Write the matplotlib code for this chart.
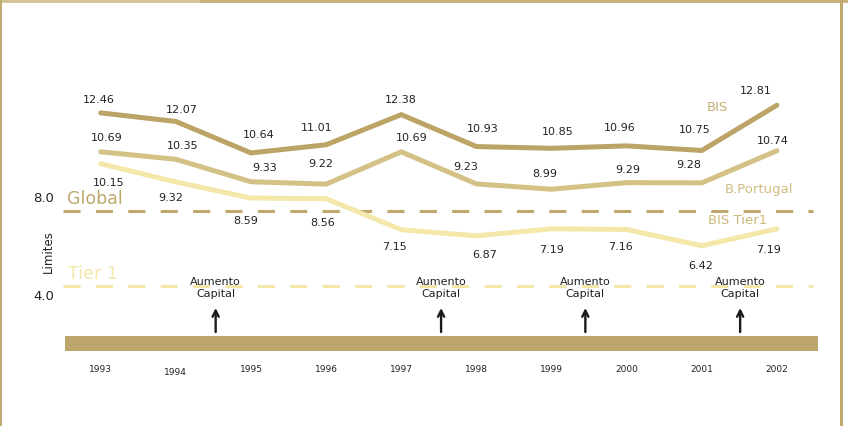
import numpy as np
import matplotlib
matplotlib.use("Agg")
import matplotlib.pyplot as plt
from matplotlib.patches import Rectangle

# ---------------- data ----------------
years = [1993, 1994, 1995, 1996, 1997, 1998, 1999, 2000, 2001, 2002]
bis = [12.46, 12.07, 10.64, 11.01, 12.38, 10.93, 10.85, 10.96, 10.75, 12.81]
bportugal = [10.69, 10.35, 9.33, 9.22, 10.69, 9.23, 8.99, 9.29, 9.28, 10.74]
bis_tier1 = [10.15, 9.32, 8.59, 8.56, 7.15, 6.87, 7.19, 7.16, 6.42, 7.19]
limit_global = 8.0
limit_tier1 = 4.0
capital_increase_x = [1994.53, 1997.53, 1999.45, 2001.51]
series_names = ["BIS", "B.Portugal", "BIS Tier1"]

# ---------------- label offsets (pixels, y up) ----------------
bis_off = [(-2, 14), (6, 12.5), (8, 19), (-9, 18), (0, 15.6), (6, 18.5),
           (6, 17.3), (-7, 19), (-7, 21.5), (-21, 15)]
bp_off = [(6, 15), (7, 14), (14, 15), (-5, 21), (10, 15), (-11, 18),
          (-7, 16), (1, 14), (-13, 19), (-4, 11)]
t1_off = [(8, -18), (-5, -15), (-5, -22), (-3, -23), (-7, -16), (8, -18),
          (0, -20), (-6, -16.5), (-1, -19), (-8, -20)]
name_off = [(-60, -1), (-18, -38), (-39, 9)]

c_bis = "#BBA466"
c_bp = "#D3C185"
c_t1 = "#F3E7AA"
c_global = "#BEA86C"
c_bar = "#BCA66B"
c_text = "#222222"

W, H = 848, 427
fig = plt.figure(figsize=(W / 100, H / 100), dpi=100)
fig.patch.set_facecolor("white")
ax = fig.add_axes([0, 0, 1, 1])
ax.set_axis_off()

# piecewise scale: compressed below 6
k = 0.7045
def fwd(v):
    v = np.asarray(v, dtype=float)
    return np.where(v >= 6, v, 6 - (6 - v) * k)
def inv(t):
    t = np.asarray(t, dtype=float)
    return np.where(t >= 6, t, 6 - (6 - t) / k)
ax.set_yscale("function", functions=(fwd, inv))

px_per_year = 75.14
x0 = 100.7
ax.set_xlim(1993 - x0 / px_per_year, 1993 + (W - x0) / px_per_year)
t_top = 8 + 212 / 22
t_bot = 8 - (H - 212) / 22
ax.set_ylim(float(inv(t_bot)), t_top)

def fy(py):
    return 1 - py / H

# frame decorations
fig.add_artist(Rectangle((0, fy(4)), 1, 4 / H, transform=fig.transFigure,
                         color="#C7B37A", lw=0))
fig.add_artist(Rectangle((0, fy(4)), 200 / W, 4 / H, transform=fig.transFigure,
                         color="#D3C495", lw=0))
fig.add_artist(Rectangle((0, 0), 2 / W, 1, transform=fig.transFigure,
                         color="#BFAA70", lw=0))
fig.add_artist(Rectangle((840 / W, 0), 2.5 / W, 1, transform=fig.transFigure,
                         color="#BFAA70", lw=0))

# limit lines
ax.axhline(limit_global, xmin=63 / W, xmax=813 / W, color=c_global, lw=2.2,
           dashes=(5.6, 5.0), zorder=1)
ax.axhline(limit_tier1, xmin=63 / W, xmax=813 / W, color=c_t1, lw=2.2,
           dashes=(5.6, 5.0), zorder=1)

# series
for vals, col in [(bis_tier1, c_t1), (bportugal, c_bp), (bis, c_bis)]:
    ax.plot(years, vals, color=col, lw=3.6, solid_capstyle="round",
            solid_joinstyle="miter", zorder=3)

# value labels
for vals, offs in [(bis, bis_off), (bportugal, bp_off), (bis_tier1, t1_off)]:
    for x, v, (dx, dy) in zip(years, vals, offs):
        ax.annotate(f"{v:.2f}", (x, v), xytext=(dx, dy), textcoords="offset pixels",
                    ha="center", va="center", fontsize=8, color=c_text, zorder=4)

# series names
name_cols = ["#C4AE74", "#D0BD80", "#CDB979"]
for name, vals, (dx, dy), col in zip(series_names, [bis, bportugal, bis_tier1],
                                      name_off, name_cols):
    ax.annotate(name, (years[-1], vals[-1]), xytext=(dx, dy),
                textcoords="offset pixels", ha="center", va="center",
                fontsize=9.5, color=col)

# limit texts
ax.text(95 / W, fy(199), "Global", transform=ax.transAxes, ha="center",
        va="center", fontsize=12.5, color=c_global)
ax.text(93 / W, fy(274), "Tier 1", transform=ax.transAxes, ha="center",
        va="center", fontsize=12.5, color=c_t1)
ax.text(44 / W, fy(198), f"{limit_global:.1f}", transform=ax.transAxes,
        ha="center", va="center", fontsize=9.5, color=c_text)
ax.text(44 / W, fy(296), f"{limit_tier1:.1f}", transform=ax.transAxes,
        ha="center", va="center", fontsize=9.5, color=c_text)
ax.text(48 / W, fy(252), "Limites", transform=ax.transAxes, ha="center",
        va="center", fontsize=8.5, color=c_text, rotation=90)

# bottom bar
ax.add_patch(Rectangle((65 / W, fy(352)), (818 - 65) / W, 15 / H,
                       transform=ax.transAxes, color=c_bar, lw=0))

# capital increase markers
xt = ax.get_xaxis_transform()
for x in capital_increase_x:
    ax.annotate("", xy=(x, fy(309)), xytext=(x, fy(333)), xycoords=xt,
                textcoords=xt,
                arrowprops=dict(arrowstyle="->", lw=1.7, color="#1a1a1a",
                                mutation_scale=11, shrinkA=0, shrinkB=0))
    ax.text(x, fy(288), "Aumento\nCapital", transform=xt, ha="center",
            va="center", fontsize=8, color=c_text, linespacing=1.2)

# year labels
for yr in years:
    yy = fy(373) if yr == 1994 else fy(370)
    ax.text(yr, yy, str(yr), transform=xt, ha="center", va="center",
            fontsize=6.5, color=c_text,
            family=["Liberation Sans Narrow", "DejaVu Sans"])

fig.savefig("out.png", dpi=100, facecolor="white")
